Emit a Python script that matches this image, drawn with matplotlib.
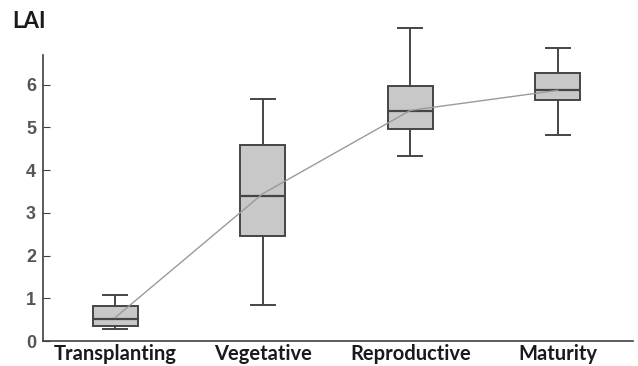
import matplotlib

matplotlib.use("Agg")
import matplotlib.pyplot as plt

stages = ["Transplanting", "Vegetative", "Reproductive", "Maturity"]
whisker_low = [0.27, 0.85, 4.33, 4.83]
q1 = [0.34, 2.45, 4.96, 5.64]
medians = [0.52, 3.39, 5.39, 5.87]
q3 = [0.83, 4.58, 5.98, 6.27]
whisker_high = [1.08, 5.66, 7.33, 6.85]
means = [0.55, 3.45, 5.40, 5.87]
y_ticks = [0, 1, 2, 3, 4, 5, 6]


def main():
    fig = plt.figure(figsize=(6.38, 3.66), dpi=100)
    ax = fig.add_axes([43 / 638, 25 / 366, 590 / 638, 316 / 366])

    positions = list(range(1, len(stages) + 1))
    stats = []
    for i, name in enumerate(stages):
        stats.append({
            "label": name,
            "whislo": whisker_low[i],
            "q1": q1[i],
            "med": medians[i],
            "q3": q3[i],
            "whishi": whisker_high[i],
            "fliers": [],
        })

    edge = "#454545"
    ax.bxp(
        stats,
        positions=positions,
        widths=0.305,
        capwidths=0.16,
        patch_artist=True,
        showfliers=False,
        boxprops=dict(facecolor="#c8c8c8", edgecolor=edge, linewidth=1.4),
        medianprops=dict(color=edge, linewidth=1.6),
        whiskerprops=dict(color=edge, linewidth=1.4),
        capprops=dict(color=edge, linewidth=1.4),
        zorder=2,
    )
    ax.plot(positions, means, color="#9a9a9a", linewidth=1.0, zorder=3)

    ax.set_xlim(0.51, 4.51)
    ax.set_ylim(0, 7.4)
    ax.set_yticks(y_ticks)
    ax.set_xticks(positions)
    ax.set_xticklabels(stages, fontfamily="Lato", fontweight="bold", fontsize=14.5, color="#1a1a1a")
    for lbl in ax.get_yticklabels():
        lbl.set_fontweight("bold")
        lbl.set_fontsize(13)
        lbl.set_color("#555555")
        lbl.set_fontfamily("Liberation Sans")

    ax.spines["top"].set_visible(False)
    ax.spines["right"].set_visible(False)
    ax.spines["left"].set_bounds(0, 6.7)
    ax.spines["left"].set_color("#404040")
    ax.spines["bottom"].set_color("#404040")
    ax.spines["left"].set_linewidth(1.2)
    ax.spines["bottom"].set_linewidth(1.2)
    ax.tick_params(axis="y", direction="in", length=5, color="#404040", pad=5)
    ax.tick_params(axis="x", length=0, pad=2)

    fig.text(12 / 638, 1 - 21 / 366, "LAI", fontfamily="Lato", fontweight="bold",
             fontsize=16, color="#1a1a1a", va="center", ha="left")

    fig.savefig("out.png", dpi=100)
    plt.close(fig)


if __name__ == "__main__":
    main()
